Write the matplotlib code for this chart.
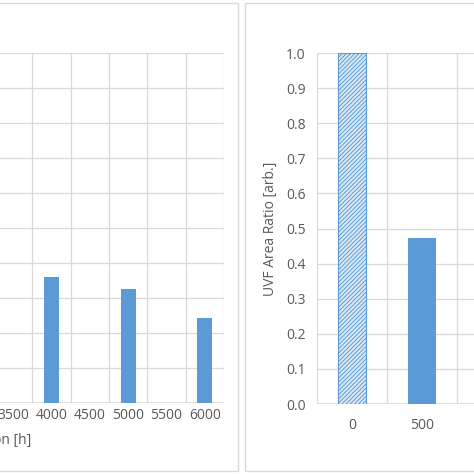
import matplotlib
matplotlib.use("Agg")
import matplotlib.pyplot as plt
from matplotlib.patches import Rectangle

plt.rcParams['font.family'] = ['Open Sans', 'DejaVu Sans']
plt.rcParams['hatch.color'] = '#5b9bd5'
plt.rcParams['hatch.linewidth'] = 0.7

left_categories = ['0', '500', '1000', '1500', '2000', '2500', '3000',
                   '3500', '4000', '4500', '5000', '5500', '6000']
left_bar_cats = ['4000', '5000', '6000']
left_bar_vals = [0.36, 0.326, 0.243]

right_categories = ['0', '500']
right_vals = [1.0, 0.474]

BLUE = '#5b9bd5'
GRID = '#d9d9d9'
TXT = '#595959'

fig = plt.figure(figsize=(4.74, 4.74), dpi=100)

fig.patches.append(Rectangle((-0.1, 3/474), 238/474 + 0.1, 468/474, transform=fig.transFigure,
                             fill=False, edgecolor=GRID, lw=1))
fig.patches.append(Rectangle((245/474, 3/474), 0.6, 468/474, transform=fig.transFigure,
                             fill=False, edgecolor=GRID, lw=1))

def style(ax):
    ax.set_ylim(0, 1.0)
    ax.set_yticks([i/10 for i in range(11)])
    ax.set_yticklabels([f"{i/10:.1f}" for i in range(11)])
    ax.grid(True, color=GRID, lw=0.9)
    ax.set_axisbelow(True)
    for s in ax.spines.values():
        s.set_visible(False)
    ax.axhline(0, color=GRID, lw=1.2, zorder=1)
    ax.tick_params(length=0, colors=TXT, labelsize=10)

ax1 = fig.add_axes([-274/474, 1-403/474, 498/474, 350/474])
style(ax1)
pos = {c: i for i, c in enumerate(left_categories)}
ax1.bar([pos[c] for c in left_bar_cats], left_bar_vals, width=0.39, color=BLUE, zorder=2)
ax1.set_xlim(-0.5, len(left_categories) - 0.5)
ax1.set_xticks(range(len(left_categories)))
ax1.set_xticklabels(left_categories)
ax1.set_xticks([i + 0.5 for i in range(-1, len(left_categories))], minor=True)
ax1.xaxis.grid(False, which='major')
ax1.xaxis.grid(True, which='minor', color=GRID, lw=0.9)
ax1.tick_params(which='minor', length=0)
ax1.set_xlabel('Operation Duration [h]', color=TXT, fontsize=10, labelpad=4)
ax1.xaxis.set_label_coords(0.5 - 18/498, -0.085)
ax1.set_ylabel('ratio', color=TXT)

ax2 = fig.add_axes([317/474, 1-404/474, 157/474, 351/474])
style(ax2)
ax2.bar([0], [right_vals[0]], width=0.4, facecolor='#dbe8f6', edgecolor=BLUE,
        hatch='////////', lw=0.8, zorder=2)
ax2.bar([1], [right_vals[1]], width=0.4, color=BLUE, zorder=2)
ax2.set_xlim(-0.5, 1.5 + 17/70)
ax2.set_xticks([0, 1])
ax2.set_xticklabels(right_categories)
ax2.set_xticks([-0.5, 0.5, 1.5], minor=True)
ax2.xaxis.grid(False, which='major')
ax2.xaxis.grid(True, which='minor', color=GRID, lw=0.9)
ax2.tick_params(which='minor', length=0)
ax2.tick_params(axis='x', pad=10)
ax2.tick_params(axis='y', pad=8)
ax2.set_ylabel('UVF Area Ratio [arb.]', color=TXT, fontsize=10, labelpad=6)

fig.savefig('out.png', dpi=100)
